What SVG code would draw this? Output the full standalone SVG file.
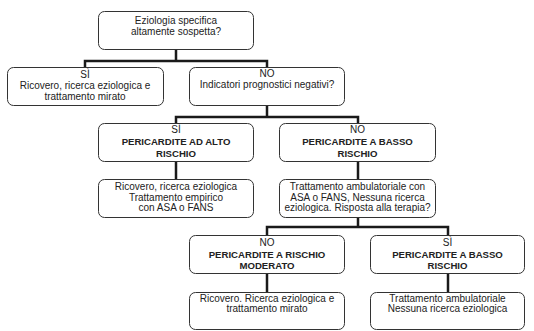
<svg xmlns="http://www.w3.org/2000/svg" width="534" height="331" viewBox="0 0 534 331">
<style>
.box{fill:#fff;stroke:#333;stroke-width:1}
.t{font-family:"Liberation Sans",Arial,sans-serif;font-size:10px;fill:#222;text-anchor:middle}
.b{font-weight:bold;font-size:9.6px}
.c{fill:none;stroke:#1a1a1a;stroke-width:2.5;stroke-linejoin:miter}
</style>
<rect width="534" height="331" fill="#fff"/>
<g id="connectors">
<path class="c" d="M176 49V61M85 67V61H267V67"/>
<path class="c" d="M267 105V117M176 123V117H358V123"/>
<path class="c" d="M176 161V179"/>
<path class="c" d="M358 161V179"/>
<path class="c" d="M358 217V227M267 235V227H448V235"/>
<path class="c" d="M267 273V292"/>
<path class="c" d="M448 273V292"/>
</g>
<g id="n1"><rect class="box" x="98.5" y="11.5" width="155" height="38" rx="6"/>
<text class="t" x="176" y="24">Eziologia specifica</text><text class="t" x="176" y="34.5">altamente sospetta?</text></g>
<g id="n2"><rect class="box" x="7.5" y="67.5" width="156" height="38" rx="6"/>
<text class="t" x="85" y="78">SÌ</text><text class="t" x="85" y="89">Ricovero, ricerca eziologica e</text><text class="t" x="85" y="99.5">trattamento mirato</text></g>
<g id="n3"><rect class="box" x="189.5" y="67.5" width="155" height="38" rx="6"/>
<text class="t" x="267" y="77">NO</text><text class="t" x="267" y="87.5">Indicatori prognostici negativi?</text></g>
<g id="n4"><rect class="box" x="98.5" y="123.5" width="155" height="38" rx="6"/>
<text class="t" x="176" y="133">SÌ</text><text class="t b" x="176" y="145">PERICARDITE AD ALTO</text><text class="t b" x="176" y="156.5">RISCHIO</text></g>
<g id="n5"><rect class="box" x="279.5" y="123.5" width="156" height="38" rx="6"/>
<text class="t" x="357.5" y="133">NO</text><text class="t b" x="357.5" y="145">PERICARDITE A BASSO</text><text class="t b" x="357.5" y="156.5">RISCHIO</text></g>
<g id="n6"><rect class="box" x="98.5" y="179.5" width="155" height="38" rx="6"/>
<text class="t" x="176" y="190">Ricovero, ricerca eziologica</text><text class="t" x="176" y="200.5">Trattamento empirico</text><text class="t" x="176" y="211">con ASA o FANS</text></g>
<g id="n7"><rect class="box" x="279.5" y="179.5" width="156" height="38" rx="6"/>
<text class="t" x="357.5" y="190">Trattamento ambulatoriale con</text><text class="t" x="357.5" y="200.5">ASA o FANS, Nessuna ricerca</text><text class="t" x="357.5" y="211">eziologica. Risposta alla terapia?</text></g>
<g id="n8"><rect class="box" x="189.5" y="235.5" width="155" height="38" rx="6"/>
<text class="t" x="267" y="245.5">NO</text><text class="t b" x="267" y="257.5">PERICARDITE A RISCHIO</text><text class="t b" x="267" y="269">MODERATO</text></g>
<g id="n9"><rect class="box" x="370.5" y="235.5" width="154" height="38" rx="6"/>
<text class="t" x="447.5" y="245.5">SÌ</text><text class="t b" x="447.5" y="257.5">PERICARDITE A BASSO</text><text class="t b" x="447.5" y="269">RISCHIO</text></g>
<g id="n10"><rect class="box" x="189.5" y="292.5" width="155" height="37" rx="6"/>
<text class="t" x="267" y="302">Ricovero. Ricerca eziologica e</text><text class="t" x="267" y="312">trattamento mirato</text></g>
<g id="n11"><rect class="box" x="370.5" y="292.5" width="154" height="37" rx="6"/>
<text class="t" x="447.5" y="302">Trattamento ambulatoriale</text><text class="t" x="447.5" y="312">Nessuna ricerca eziologica</text></g>
</svg>
